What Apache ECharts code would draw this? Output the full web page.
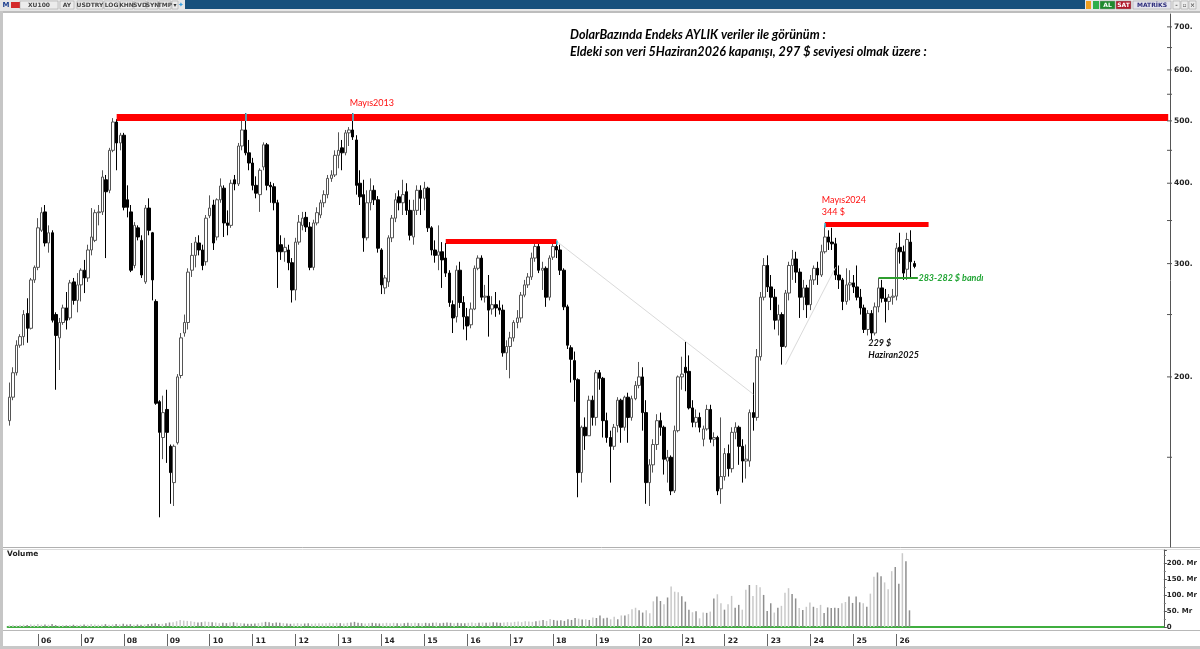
<!DOCTYPE html>
<html>
<head>
<meta charset="utf-8">
<title>XU100 - Dolar bazında aylık</title>
<script src="https://cdn.jsdelivr.net/npm/echarts@6/dist/echarts.min.js"></script>
<style>
html,body{margin:0;padding:0;background:#ffffff;overflow:hidden}
#chart{width:1200px;height:649px}
</style>
</head>
<body>
<div id="chart"></div>
<script>
// ---------------- time base ----------------
const startYear = 2005;
const startMonth = 5;      // first candle: May 2005
const monthSlots = 325;    // months on the axis incl. empty right margin
const yearLabels = ['06','07','08','09','10','11','12','13','14','15','16','17','18','19','20','21','22','23','24','25','26'];

// ---------------- monthly candles [open, close, low, high] ($) ----------------
const y2005 = [[171,186,168,196],[186,203,184,207],[203,224,201,228],[224,231,222,233],[231,250,224,254],[251,238,226,265],[238,283,237,285],[283,296,280,298]];
const y2006 = [[296,341,293,353],[338,360,336,367],[361,323,319,370],[323,335,312,344],[335,245,243,338],[250,232,191,252],[230,243,205,247],[243,256,241,259],[256,245,237,271],[247,280,245,283],[281,263,259,285],[263,278,252,290]];
const y2007 = [[278,293,262,295],[293,285,270,304],[285,315,281,321],[315,330,309,366],[326,360,324,364],[360,361,344,370],[361,409,357,419],[405,388,306,412],[390,450,386,454],[450,498,447,505],[498,462,419,503],[462,475,450,479]];
const y2008 = [[475,367,363,479],[377,367,354,397],[361,293,291,370],[298,344,295,348],[341,330,326,344],[326,288,285,332],[281,366,279,370],[366,338,332,379],[335,283,263,336],[262,182,181,264],[183,164,121,184],[161,176,149,187]];
const y2009 = [[178,164,147,191],[156,142,127,157],[137,156,126,157],[158,200,157,202],[201,230,199,234],[234,243,231,250],[243,291,237,295],[293,309,286,323],[309,324,296,330],[323,315,309,332],[315,298,293,321],[302,353,298,357]];
const y2010 = [[356,366,353,383],[370,323,315,377],[330,377,326,379],[377,396,373,407],[393,347,330,397],[347,344,332,363],[344,400,341,405],[405,399,390,412],[399,457,396,462],[457,484,450,510],[484,446,442,514],[446,430,419,467]];
const y2011 = [[430,397,390,438],[397,386,379,410],[384,419,361,422],[424,459,419,463],[459,397,390,462],[397,395,373,402],[395,373,363,400],[373,313,275,377],[321,313,304,332],[313,318,302,329],[315,301,293,321],[301,273,261,306]];
const y2012 = [[273,324,263,329],[324,348,321,357],[344,353,338,361],[354,342,336,361],[342,296,293,348],[296,347,293,351],[347,360,344,367],[357,373,353,377],[373,384,367,390],[384,407,379,412],[407,412,402,419],[412,442,409,450]];
const y2013 = [[442,450,422,480],[454,446,419,467],[446,479,442,484],[479,484,457,489],[484,472,467,514],[467,397,384,475],[400,381,370,419],[384,329,313,405],[329,373,326,390],[373,390,363,407],[390,377,370,397],[377,317,312,382]];
const y2014 = [[315,278,269,317],[275,285,269,288],[281,329,276,332],[329,353,324,357],[353,377,348,386],[381,373,363,390],[373,384,357,405],[388,363,357,400],[363,332,326,377],[330,363,321,377],[363,390,357,397],[390,379,357,397]];
const y2015 = [[379,393,363,402],[393,341,336,395],[341,315,309,343],[315,309,301,326],[309,313,293,344],[313,304,275,324],[306,290,286,323],[290,261,257,293],[259,247,234,263],[248,293,243,298],[293,261,256,302],[261,248,237,267]];
const y2016 = [[248,240,228,256],[241,255,238,261],[255,295,254,298],[295,306,293,309],[306,266,263,309],[266,267,261,278],[267,254,231,288],[255,259,250,267],[259,256,248,271],[256,254,250,263],[254,218,215,259],[218,223,205,228]];
const y2017 = [[223,230,199,235],[230,243,227,245],[243,247,238,254],[247,268,243,271],[268,278,266,283],[278,286,275,290],[286,306,283,312],[306,319,302,323],[319,293,290,324],[293,295,273,302],[295,266,257,297],[266,306,263,309]];
const y2018 = [[307,319,304,325],[319,315,306,325],[315,293,288,321],[293,257,254,295],[257,224,221,259],[222,213,196,224],[212,198,183,219],[198,142,130,199],[142,167,137,168],[167,162,154,173],[162,184,162,187],[184,173,168,187]];
const y2019 = [[173,203,168,205],[203,199,191,205],[199,171,161,200],[171,161,158,176],[161,156,137,165],[156,167,154,169],[168,184,164,186],[184,167,158,185],[167,186,165,187],[186,173,158,189],[173,185,171,187],[185,194,184,197]];
const y2020 = [[194,200,192,211],[200,176,165,207],[176,137,127,184],[137,146,126,149],[146,157,142,160],[157,171,154,175],[171,167,162,176],[167,149,141,168],[148,150,137,154],[150,133,131,151],[133,165,132,168],[165,200,164,201]];
const y2021 = [[200,202,191,215],[207,203,190,227],[204,179,178,216],[179,170,167,184],[170,173,167,178],[173,167,164,176],[160,166,156,168],[166,178,165,181],[178,160,158,181],[160,161,156,164],[161,133,131,162],[134,140,127,173]];
const y2022 = [[140,152,138,155],[152,144,140,157],[144,164,142,167],[164,167,160,170],[167,156,146,168],[156,148,137,160],[148,149,139,157],[148,176,145,178],[176,173,165,196],[173,215,171,221],[215,266,212,271],[266,298,263,306]];
const y2023 = [[298,276,271,309],[276,266,254,288],[266,245,237,274],[245,250,232,259],[250,223,209,252],[223,270,222,273],[270,298,263,302],[298,305,283,315],[305,291,280,313],[291,266,247,295],[266,275,254,283],[275,259,247,278]];
const y2024 = [[259,283,254,288],[283,295,278,298],[295,288,278,302],[288,313,286,321],[313,330,311,344],[330,324,315,338],[324,322,315,341],[322,288,283,329],[288,283,274,298],[283,262,254,285],[262,278,259,295],[278,280,263,293]];
const y2025 = [[280,276,270,288],[276,266,263,298],[266,256,250,274],[256,237,234,259],[237,251,232,254],[251,234,229,254],[234,257,232,261],[257,275,252,285],[275,265,261,283],[265,262,243,274],[262,266,254,269],[266,267,259,274]];
const y2026 = [[267,317,263,323],[318,313,300,335],[313,290,283,320],[294,327,283,335],[324,302,284,338],[300,297,295,303]];

// ---------------- monthly volume (Mr) ----------------
const vol2005 = [5,6,5,6,7,6,8,7];
const vol2006 = [9,7,8,7,9,6,5,6,5,6,7,6];
const vol2007 = [7,8,7,9,8,7,8,9,7,8,9,8];
const vol2008 = [10,8,9,7,8,7,8,9,10,12,9,10];
const vol2009 = [12,14,15,18,22,20,19,18,16,14,15,17];
const vol2010 = [16,15,14,12,13,12,14,15,13,12,11,10];
const vol2011 = [10,11,12,14,16,15,12,14,13,12,11,10];
const vol2012 = [11,12,10,11,12,10,11,12,11,12,13,12];
const vol2013 = [13,12,11,13,14,16,13,12,11,12,13,12];
const vol2014 = [11,12,13,12,13,12,11,12,13,12,13,12];
const vol2015 = [12,13,12,13,14,12,13,14,13,12,13,12];
const vol2016 = [12,13,14,12,13,14,13,14,15,14,13,14];
const vol2017 = [15,14,16,17,15,18,17,16,18,20,22,19];
const vol2018 = [25,22,20,21,19,24,22,28,26,23,24,22];
const vol2019 = [30,28,36,27,29,24,32,24,36,36,40,55];
const vol2020 = [60,52,45,52,43,80,95,81,71,92,126,110];
const vol2021 = [108,96,79,54,46,49,27,45,44,48,89,102];
const vol2022 = [74,54,71,97,60,69,54,116,131,97,131,124];
const vol2023 = [100,50,74,45,60,66,107,121,103,89,59,53];
const vol2024 = [63,76,63,59,69,44,61,59,60,59,74,78];
const vol2025 = [95,75,95,77,74,63,104,157,170,158,139,118];
const vol2026 = [174,187,135,230,205,52];

// ---------------- axis ticks ----------------
const priceMajorTicks = [200, 300, 400, 500, 600, 700];
const priceMinorTicks = [150, 250, 350, 450, 550, 650];
const volumeTicks = [0, 50, 100, 150, 200];

// ---------------- annotations (month, level) ----------------
const redLevels = [
  {from:'2007-11', to:'2032-05', value:506, width:7},
  {from:'2015-07', to:'2018-02', value:325, width:5},
  {from:'2024-05', to:'2026-10', value:346, width:5}
];
const bandLine = {from:'2025-08', to:'2026-07', value:285};
const trendLines = [
  {from:'2018-02', v1:325, to:'2022-09', v2:188},
  {from:'2023-06', v1:209, to:'2024-08', v2:296}
];
const topMarks = [
  {month:'2010-11', low:500, high:514},
  {month:'2013-05', low:500, high:514},
  {month:'2018-02', low:321, high:326},
  {month:'2024-05', low:341, high:347}
];
const titleLines = [
  'DolarBazında Endeks AYLIK veriler ile görünüm :',
  'Eldeki son veri 5Haziran2026 kapanışı, 297 $ seviyesi olmak üzere :'
];
const notes = [
  {month:'2013-05', value:533, text:'Mayıs2013', color:'#ff1010', italic:false, bold:false},
  {month:'2024-05', value:369, text:'Mayıs2024\n344 $', color:'#ff1010', italic:false, bold:false},
  {month:'2025-06', value:221, text:'229 $\nHaziran2025', color:'#111111', italic:true, bold:true},
  {month:'2026-08', value:285, text:'283-282 $ bandı', color:'#22a535', italic:true, bold:true}
];

// ---------------- build ----------------
const months = [];
for (let k = 0; k < monthSlots; k++) {
  const m = startMonth - 1 + k;
  months.push((startYear + Math.floor(m / 12)) + '-' + String(m % 12 + 1).padStart(2, '0'));
}
const candles = [].concat(y2005,y2006,y2007,y2008,y2009,y2010,y2011,y2012,y2013,y2014,y2015,y2016,y2017,y2018,y2019,y2020,y2021,y2022,y2023,y2024,y2025,y2026);
const volumes = [].concat(vol2005,vol2006,vol2007,vol2008,vol2009,vol2010,vol2011,vol2012,vol2013,vol2014,vol2015,vol2016,vol2017,vol2018,vol2019,vol2020,vol2021,vol2022,vol2023,vol2024,vol2025,vol2026);
const volumeData = volumes.map((v, i) => ({
  value: v,
  itemStyle: {color: candles[i][1] >= candles[i][0] ? '#c9c9c9' : '#8f8f8f'}
}));
const isJanuary = (idx, val) => {
  const s = typeof val === 'string' ? val : months[idx];
  return s.slice(5) === '01' && yearLabels.indexOf(s.slice(2, 4)) >= 0;
};

const markLineData = [];
redLevels.forEach(r => markLineData.push([
  {coord:[r.from, r.value], lineStyle:{color:'#ff0000', width:r.width, type:'solid', opacity:1}},
  {coord:[r.to, r.value]}
]));
markLineData.push([
  {coord:[bandLine.from, bandLine.value], lineStyle:{color:'#2e9e2e', width:2, type:'solid', opacity:1}},
  {coord:[bandLine.to, bandLine.value]}
]);
trendLines.forEach(t => markLineData.push([
  {coord:[t.from, t.v1], lineStyle:{color:'#dadada', width:1, type:'solid', opacity:1}},
  {coord:[t.to, t.v2]}
]));
topMarks.forEach(t => markLineData.push([
  {coord:[t.month, t.low], lineStyle:{color:'#2ec8e6', width:1.5, type:'solid', opacity:1}},
  {coord:[t.month, t.high]}
]));

const markPointData = notes.map(n => ({
  coord:[n.month, n.value],
  symbol:'circle', symbolSize:0,
  label:{
    show:true, position:'right', distance:0, offset:[-3, 0],
    formatter:n.text, color:n.color, align:'left', verticalAlign:'middle',
    fontFamily:'Lato', fontSize:9, fontWeight:n.bold ? 'bold' : 'normal', fontStyle:n.italic ? 'italic' : 'normal',
    lineHeight:12
  }
}));

const tickData = priceMajorTicks.map(v => [0, v, 1]).concat(priceMinorTicks.map(v => [0, v, 0]));
function renderPriceTick(params, api) {
  const cs = params.coordSys;
  const y = api.coord([0, api.value(1)])[1];
  const x0 = cs.x + cs.width;
  const major = api.value(2) === 1;
  const children = [{
    type:'line',
    shape:{x1:x0 - 3, y1:y, x2:x0 + 2, y2:y},
    style:{stroke:'#555555', lineWidth:1}
  }];
  if (major) {
    children.push({
      type:'text', x:x0 + 4, y:y,
      style:{text:api.value(1) + '.', fill:'#222222', font:'bold 7.5px "DejaVu Sans"', align:'left', verticalAlign:'middle'}
    });
  }
  return {type:'group', children:children};
}

// ---------------- window chrome ----------------
function btn(x, w, label, fill, color) {
  return [
    {type:'rect', shape:{x:x, y:1, width:w, height:8}, style:{fill:fill, stroke:'#9a9a9a', lineWidth:0.5}},
    {type:'text', x:x + w / 2, y:5, style:{text:label, fill:color, font:'bold 6px "DejaVu Sans"', align:'center', verticalAlign:'middle'}}
  ];
}
const chrome = [].concat(
  [{type:'rect', shape:{x:0, y:0, width:1200, height:11}, style:{fill:'#e6e6e6'}}],
  [{type:'rect', shape:{x:185, y:0, width:900, height:9}, style:{fill:'#17507c'}}],
  [{type:'text', x:6, y:5, style:{text:'M', fill:'#1d3f8f', font:'bold 7px "DejaVu Sans"', align:'center', verticalAlign:'middle'}}],
  [{type:'rect', shape:{x:11, y:2, width:9, height:6}, style:{fill:'#d42a2a'}}],
  btn(20, 38, 'XU100', '#ececec', '#444'),
  btn(60, 14, 'AY', '#ececec', '#444'),
  btn(77, 26, 'USDTRY', '#ececec', '#444'),
  btn(104, 15, 'LOG', '#ececec', '#444'),
  btn(120, 13, 'KHN', '#ececec', '#444'),
  btn(134, 12, 'SVD', '#ececec', '#444'),
  btn(147, 11, 'SYN', '#ececec', '#444'),
  btn(159, 12, 'TMP', '#ececec', '#444'),
  btn(172, 6, '▾', '#ececec', '#333'),
  [{type:'text', x:181, y:5, style:{text:'✦', fill:'#3aa0e0', font:'bold 7px "DejaVu Sans"', align:'center', verticalAlign:'middle'}}],
  [{type:'rect', shape:{x:1086, y:1, width:5, height:8}, style:{fill:'#f0a020'}}],
  [{type:'rect', shape:{x:1093, y:1, width:6, height:8}, style:{fill:'#2fae4a'}}],
  btn(1100, 15, 'AL', '#1f8a2e', '#ffffff'),
  btn(1116, 15, 'SAT', '#b0182a', '#ffffff'),
  btn(1133, 38, 'MATRİKS', '#e4e4ec', '#2a2a7a'),
  btn(1173, 7, '-', '#ececec', '#555'),
  btn(1181, 7, '▫', '#ececec', '#555'),
  btn(1189, 7, '×', '#ececec', '#555'),
  [{type:'rect', shape:{x:0, y:11, width:1200, height:2}, style:{fill:'#bdbdbd'}}],
  [{type:'rect', shape:{x:0, y:11, width:3, height:638}, style:{fill:'#c6c6c6'}}],
  [{type:'line', shape:{x1:3, y1:547.5, x2:1200, y2:547.5}, style:{stroke:'#b0b0b0', lineWidth:1}}],
  [{type:'line', shape:{x1:3, y1:549.5, x2:1200, y2:549.5}, style:{stroke:'#dcdcdc', lineWidth:1}}],
  [{type:'line', shape:{x1:3, y1:630.5, x2:1200, y2:630.5}, style:{stroke:'#b8b8b8', lineWidth:1}}],
  [{type:'rect', shape:{x:0, y:646, width:1200, height:3}, style:{fill:'#c8c8c8'}}],
  [{type:'text', x:7, y:554, style:{text:'Volume', fill:'#222', font:'bold 7.5px "DejaVu Sans"', align:'left', verticalAlign:'middle'}}]
);

// ---------------- chart ----------------
const chart = echarts.init(document.getElementById('chart'), null, {renderer:'canvas', width:1200, height:649});
chart.setOption({
  animation:false,
  backgroundColor:'#ffffff',
  title:{
    text:titleLines.join('\n'), left:565, top:21,
    textStyle:{fontFamily:'Lato', fontSize:12.6, fontWeight:'bold', fontStyle:'italic', color:'#000000', lineHeight:17}
  },
  graphic:{elements:chrome},
  grid:[
    {left:7.6, right:30, top:14, height:533},
    {left:7.6, right:30, top:550, height:77},
    {left:7.6, right:30, top:633, height:13}
  ],
  xAxis:[
    {type:'category', gridIndex:0, data:months, boundaryGap:true, axisLine:{show:false}, axisTick:{show:false}, axisLabel:{show:false}, splitLine:{show:false}},
    {type:'category', gridIndex:1, data:months, boundaryGap:true, axisLine:{show:true, lineStyle:{color:'#3fae3f', width:2}}, axisTick:{show:false}, axisLabel:{show:false}},
    {type:'category', gridIndex:2, data:months, boundaryGap:true, position:'bottom',
      axisLine:{show:false},
      axisTick:{show:true, inside:true, length:12, alignWithLabel:true, interval:isJanuary, lineStyle:{color:'#666666', width:1}},
      axisLabel:{show:true, inside:true, margin:1, interval:isJanuary, align:'left', padding:[0,0,0,3],
        formatter:(v) => v.slice(2, 4), color:'#222', fontFamily:'DejaVu Sans', fontSize:7.5, fontWeight:'bold'}}
  ],
  yAxis:[
    {type:'log', logBase:10, gridIndex:0, position:'right', min:108.8, max:733,
      axisLine:{show:true, lineStyle:{color:'#555555', width:1}}, axisTick:{show:false}, axisLabel:{show:false}, splitLine:{show:false}, minorTick:{show:false}},
    {type:'value', gridIndex:1, position:'right', min:0, max:240, interval:50,
      axisLine:{show:true, lineStyle:{color:'#555555', width:1}},
      axisTick:{show:true, length:3, inside:false, lineStyle:{color:'#555'}},
      minorTick:{show:true, splitNumber:2, length:2, lineStyle:{color:'#777'}},
      splitLine:{show:false},
      axisLabel:{margin:3, color:'#222', fontFamily:'DejaVu Sans', fontSize:7, fontWeight:'bold', showMaxLabel:false,
        formatter:(v) => volumeTicks.indexOf(v) < 0 ? '' : (v === 0 ? '0' : v + '. Mr')}},
    {type:'value', gridIndex:2, show:false}
  ],
  series:[
    {
      type:'candlestick', name:'XU100/USD', xAxisIndex:0, yAxisIndex:0, data:candles, barWidth:3,
      itemStyle:{color:'#ffffff', color0:'#000000', borderColor:'#555555', borderColor0:'#000000', borderWidth:1},
      markLine:{silent:true, symbol:['none','none'], label:{show:false}, animation:false, data:markLineData},
      markPoint:{silent:true, animation:false, data:markPointData}
    },
    {
      type:'custom', name:'priceTicks', xAxisIndex:0, yAxisIndex:0, clip:false, silent:true,
      renderItem:renderPriceTick, data:tickData, z:5
    },
    {
      type:'bar', name:'Volume', xAxisIndex:1, yAxisIndex:1, data:volumeData, barWidth:1.5, silent:true
    }
  ]
});
</script>
</body>
</html>
